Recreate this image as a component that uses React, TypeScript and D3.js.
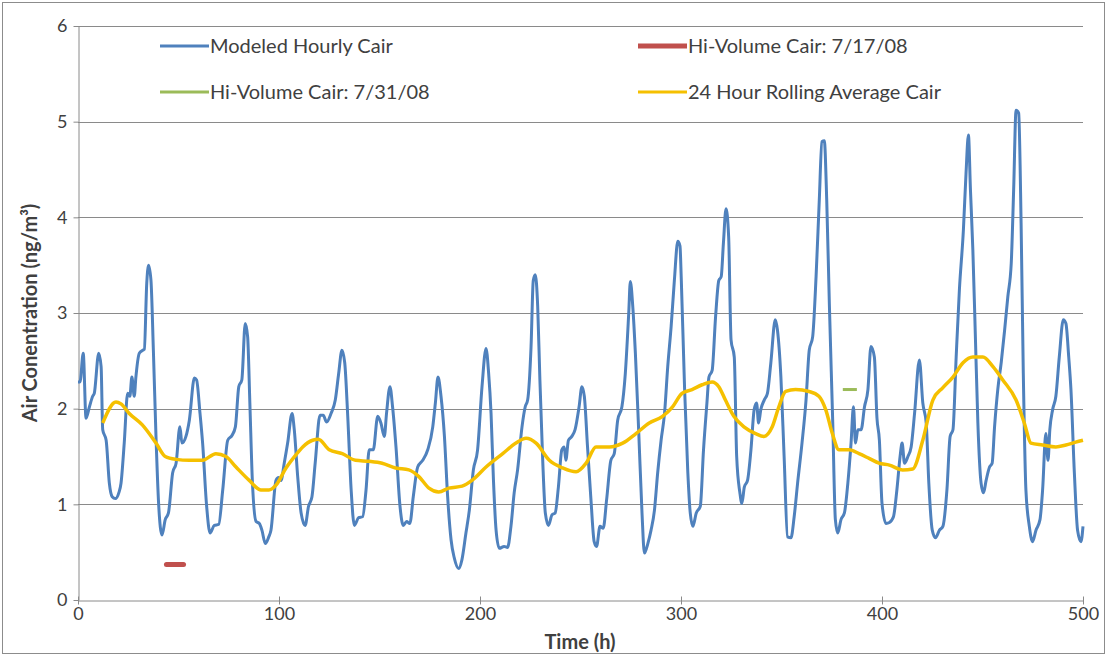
import React, { useEffect, useRef } from "react";
import * as d3 from "d3";

// modeled hourly air concentration
const hourlyTime = [
    0, 1, 2.6, 4, 5.7, 7.3, 8.1, 10.3, 11.5, 12.3, 14, 15.6, 17, 18.6, 20.3, 21.4, 23, 24.7, 25.8, 26.8, 28, 28.8,
    30.5, 32.2, 33, 34.2, 35.1, 36.3, 37.5, 38.8, 40.1, 41.8, 43.4, 45, 47.1, 48.8, 50.7, 51.7, 53.7, 55.4, 57.9,
    59, 60.7, 62, 64, 65.7, 67.8, 70, 72, 74.5, 76.6, 78.3, 80, 81.5, 83.2, 84.4, 85.5, 86.8, 88.6, 90.2, 91.5,
    93.2, 94.9, 96, 98.5, 99.8, 101, 102.6, 104.3, 106.5, 107.6, 109.3, 111, 113, 114.7, 116.4, 118, 120.4, 122,
    123.7, 125.9, 128, 129.7, 131.3, 132.7, 134.2, 135.9, 137.5, 139.6, 141.6, 143.3, 144.9, 146.9, 149.1, 150.7,
    152.4, 153.5, 155.2, 156.5, 158.2, 160.2, 161.8, 163.5, 165.1, 166.8, 169, 171.5, 174, 176.5, 177.8, 179.1,
    180.6, 182.3, 183.9, 185.6, 187.2, 189.4, 191, 193, 194.7, 196.7, 198.8, 201, 203, 204.3, 205.5, 206.7, 208,
    209.6, 212, 213.7, 215.4, 217, 218.7, 220.9, 222.5, 223.7, 225.4, 226.5, 227.5, 228.7, 229.8, 231.2, 232.5,
    234.1, 235.8, 237.4, 239, 240.7, 241.9, 242.7, 244, 245.7, 247.3, 249.3, 250.7, 251.9, 253.5, 255.2, 256.8,
    258, 259.7, 261.3, 263, 265.1, 266.8, 268.5, 270.6, 272.3, 274, 274.8, 276, 277.3, 279, 280.6, 281.8, 283.5,
    285.1, 286.8, 288.4, 290.1, 291.8, 293.4, 295.1, 296.7, 298.4, 299.5, 300.1, 301.8, 303.4, 304.6, 305.9,
    307.6, 309.6, 311.2, 312.9, 313.9, 315.5, 317.2, 318.8, 320, 321.1, 322.4, 323.7, 324.9, 326.5, 327.7, 329.3,
    330.3, 331.5, 333.1, 334.8, 336.4, 337.6, 338.6, 339.7, 341.4, 343, 344.7, 346.9, 348, 349.7, 351.3, 353,
    354.7, 356.3, 358, 360.2, 362.2, 363.8, 365.5, 367.2, 368.8, 370.1, 371.3, 372.5, 373.8, 375.5, 376.8, 378,
    379.6, 381.3, 383, 384.6, 385.8, 386.8, 388, 389.6, 391.3, 393, 394.5, 396.2, 397.5, 398.7, 400, 402, 403.7,
    405.7, 407.4, 409, 410, 411.2, 412.9, 414.5, 416.2, 418.6, 420.3, 422, 423.3, 425, 426.6, 428.6, 430.3, 432.3,
    433.9, 435.3, 436.9, 438.5, 440.5, 441.8, 443, 444, 445.2, 446.5, 447.7, 449.3, 450.5, 451.8, 453.5, 454.8,
    456, 457.6, 459.3, 461, 462.6, 464.3, 465.5, 466.7, 468, 469.2, 470.3, 471.6, 473.3, 474.9, 476.6, 478.6,
    479.9, 481.5, 482.6, 483.5, 484.9, 486.5, 488.2, 490.2, 491.5, 492.9, 494, 495.7, 497.3, 499, 500,
];
const hourlyCair = [
    2.28, 2.28, 2.58, 1.9, 2.02, 2.13, 2.16, 2.58, 2.44, 1.78, 1.67, 1.22, 1.08, 1.06, 1.12, 1.22, 1.64, 2.16, 2.13,
    2.33, 2.13, 2.33, 2.58, 2.61, 2.62, 3.31, 3.5, 3.34, 2.61, 1.71, 1.01, 0.68, 0.84, 0.91, 1.33, 1.43, 1.81, 1.64,
    1.71, 1.88, 2.32, 2.3, 1.95, 1.64, 0.98, 0.7, 0.78, 0.79, 1.15, 1.67, 1.72, 1.81, 2.23, 2.3, 2.89, 2.75, 2.06,
    1.22, 0.82, 0.8, 0.73, 0.59, 0.66, 0.73, 1.25, 1.28, 1.25, 1.43, 1.64, 1.95, 1.78, 1.29, 0.91, 0.78, 0.98, 1.08,
    1.43, 1.93, 1.93, 1.86, 1.95, 2.09, 2.37, 2.61, 2.48, 1.92, 1.15, 0.78, 0.86, 0.87, 1.15, 1.57, 1.57, 1.92,
    1.85, 1.71, 1.95, 2.23, 2.02, 1.6, 0.98, 0.78, 0.82, 0.8, 1.08, 1.39, 1.46, 1.57, 1.81, 2.06, 2.33, 2.13, 1.71,
    1.08, 0.63, 0.44, 0.33, 0.42, 0.7, 0.94, 1.36, 1.57, 2.23, 2.63, 2.37, 1.95, 1.25, 0.73, 0.54, 0.56, 0.55, 0.77,
    1.12, 1.36, 1.81, 2.02, 2.09, 2.65, 3.34, 3.4, 3.07, 2.3, 1.46, 0.91, 0.78, 0.89, 0.91, 1.18, 1.57, 1.6, 1.46,
    1.67, 1.71, 1.78, 2.02, 2.23, 2.13, 1.6, 1.05, 0.61, 0.56, 0.77, 0.75, 1.05, 1.46, 1.53, 1.88, 2.02, 2.37, 3.0,
    3.33, 3.07, 2.58, 1.74, 0.91, 0.49, 0.59, 0.73, 0.94, 1.33, 1.67, 1.95, 2.44, 2.86, 3.34, 3.75, 3.7, 3.38, 2.2,
    1.33, 0.91, 0.77, 0.91, 0.98, 1.57, 2.06, 2.33, 2.4, 2.96, 3.34, 3.38, 3.73, 4.09, 3.8, 2.72, 2.54, 1.5, 1.12,
    1.01, 1.18, 1.25, 1.57, 1.99, 2.06, 1.85, 1.99, 2.09, 2.16, 2.48, 2.93, 2.82, 2.33, 1.5, 0.66, 0.65, 0.87, 1.22,
    1.64, 2.09, 2.61, 2.75, 3.38, 4.18, 4.79, 4.8, 4.18, 3.1, 1.85, 0.84, 0.7, 0.84, 0.91, 1.22, 1.64, 2.02, 1.64,
    1.78, 1.78, 2.02, 2.2, 2.65, 2.54, 1.9, 1.67, 1.01, 0.8, 0.81, 0.87, 1.15, 1.5, 1.64, 1.43, 1.5, 1.6, 1.95, 2.51,
    2.06, 1.85, 1.22, 0.73, 0.65, 0.73, 0.77, 1.15, 1.71, 1.78, 2.54, 3.24, 3.87, 4.46, 4.86, 4.29, 3.66, 2.72, 1.85,
    1.22, 1.12, 1.25, 1.39, 1.43, 1.81, 2.2, 2.48, 2.82, 3.17, 3.52, 4.29, 5.12, 5.09, 3.94, 2.37, 1.15, 0.77, 0.61,
    0.73, 0.84, 1.15, 1.74, 1.46, 1.78, 1.99, 2.13, 2.54, 2.93, 2.89, 2.54, 2.2, 1.33, 0.73, 0.61, 0.77,
];

// 24 hour rolling average
const rollingTime = [
    12.3, 18.9, 21.4, 25.5, 32, 38.8, 43.4, 48.8, 55.4, 62, 68.6, 73.6, 78.6, 85.2, 91, 95, 98.5, 103.5, 108.5,
    111.8, 116.7, 119.6, 125, 131.5, 138.1, 144.7, 151.3, 158, 164.6, 169.6, 174.6, 179.5, 184.5, 191.1, 196, 203,
    211.3, 217.9, 222.9, 227.9, 234.5, 241.2, 247.8, 252.8, 257.7, 264.4, 271, 277.6, 284.2, 290.8, 295.8, 300.5,
    305.5, 310.5, 315.5, 318.8, 322.1, 326.3, 331.3, 337.1, 341.3, 345.4, 348.7, 352.1, 357, 363.7, 368.6, 372,
    375.3, 378.6, 383.6, 388.6, 393.6, 398.5, 403.7, 410.3, 415.3, 420.3, 425.3, 430.3, 435.3, 440.3, 445.2,
    450.2, 455.2, 460.1, 466.7, 470.8, 474.1, 479.9, 486.5, 491.5, 496.4, 500,
];
const rollingCair = [
    1.85, 2.07, 2.05, 1.95, 1.83, 1.64, 1.5, 1.47, 1.46, 1.46, 1.53, 1.5, 1.39, 1.25, 1.15, 1.15, 1.2, 1.38, 1.52,
    1.6, 1.67, 1.68, 1.57, 1.53, 1.46, 1.45, 1.43, 1.38, 1.36, 1.29, 1.17, 1.13, 1.17, 1.19, 1.25, 1.39, 1.53, 1.64,
    1.69, 1.64, 1.46, 1.38, 1.34, 1.43, 1.6, 1.6, 1.64, 1.74, 1.85, 1.92, 2.02, 2.16, 2.2, 2.25, 2.28, 2.23, 2.09,
    1.92, 1.81, 1.74, 1.71, 1.81, 2.02, 2.18, 2.2, 2.18, 2.13, 1.99, 1.74, 1.57, 1.57, 1.53, 1.48, 1.43, 1.41, 1.36,
    1.37, 1.67, 2.09, 2.22, 2.33, 2.48, 2.54, 2.54, 2.44, 2.3, 2.09, 1.85, 1.64, 1.62, 1.6, 1.62, 1.65, 1.67,
];

// hi-volume samples
const hiVol0717Time = [44, 52.5];
const hiVol0717Cair = [0.37, 0.37];
const hiVol0731Time = [380.5, 387.5];
const hiVol0731Cair = [2.2, 2.2];

const xTicks = [0, 100, 200, 300, 400, 500];
const yTicks = [0, 1, 2, 3, 4, 5, 6];

const legendItems = [
    { label: "Modeled Hourly Cair", color: "#4f81bd", width: 3, col: 0, row: 0 },
    { label: "Hi-Volume Cair: 7/17/08", color: "#c0504d", width: 5, col: 1, row: 0 },
    { label: "Hi-Volume Cair: 7/31/08", color: "#9bbb59", width: 3, col: 0, row: 1 },
    { label: "24 Hour Rolling Average Cair", color: "#f5c000", width: 3, col: 1, row: 1 },
];

const FONT = "Lato, 'Noto Sans', sans-serif";

const App = () => {
    const ref = useRef<SVGSVGElement>(null);

    useEffect(() => {
        document.body.style.margin = "0";
        if (!ref.current) return;
        d3.select(ref.current).selectAll("*").remove();

        const W = 1107;
        const H = 656;
        const svg = d3.select(ref.current).attr("width", W).attr("height", H);

        svg.append("rect")
            .attr("width", W)
            .attr("height", H)
            .attr("fill", "#fff");
        svg.append("rect")
            .attr("x", 2.5)
            .attr("y", 2.5)
            .attr("width", W - 5)
            .attr("height", H - 5)
            .attr("fill", "none")
            .attr("stroke", "#8c8c8c");

        const x = d3.scaleLinear().domain([0, 500]).range([78, 1083]);
        const y = d3.scaleLinear().domain([0, 6]).range([600, 26]);

        // gridlines
        svg.append("g")
            .selectAll("line")
            .data(yTicks.filter((d) => d > 0))
            .enter()
            .append("line")
            .attr("x1", x(0))
            .attr("x2", x(500))
            .attr("y1", (d) => Math.round(y(d)) + 0.5)
            .attr("y2", (d) => Math.round(y(d)) + 0.5)
            .attr("stroke", "#8a8a8a")
            .attr("stroke-width", 1);

        // axes
        const xAxis = svg.append("g")
            .attr("transform", `translate(0,${Math.round(y(0)) + 0.5})`)
            .call(d3.axisBottom(x).tickValues(xTicks).tickSize(4).tickSizeOuter(0).tickPadding(3));
        const yAxis = svg.append("g")
            .attr("transform", `translate(${Math.round(x(0)) + 0.5},0)`)
            .call(
                d3.axisLeft(y).tickValues(yTicks).tickFormat(d3.format("d")).tickSize(5).tickSizeOuter(0).tickPadding(6)
            );
        [xAxis, yAxis].forEach((g) => {
            g.select(".domain").attr("stroke", "#8a8a8a");
            g.selectAll(".tick line").attr("stroke", "#8a8a8a");
            g.selectAll("text")
                .attr("fill", "#404040")
                .attr("font-family", FONT)
                .attr("font-size", 18);
        });
        xAxis.selectAll(".tick line").attr("y1", -4);

        // series
        const hourlyLine = d3.line<number>()
            .x((_, i) => x(hourlyTime[i]))
            .y((d) => y(d))
            .curve(d3.curveMonotoneX);
        svg.append("path")
            .attr("d", hourlyLine(hourlyCair))
            .attr("fill", "none")
            .attr("stroke", "#4f81bd")
            .attr("stroke-width", 3)
            .attr("stroke-linejoin", "round");

        const rollingLine = d3.line<number>()
            .x((_, i) => x(rollingTime[i]))
            .y((d) => y(d))
            .curve(d3.curveMonotoneX);
        svg.append("path")
            .attr("d", rollingLine(rollingCair))
            .attr("fill", "none")
            .attr("stroke", "#f5c000")
            .attr("stroke-width", 3.5)
            .attr("stroke-linejoin", "round");

        const line0717 = d3.line<number>().x((_, i) => x(hiVol0717Time[i])).y((d) => y(d));
        svg.append("path")
            .attr("d", line0717(hiVol0717Cair))
            .attr("stroke", "#c0504d")
            .attr("stroke-width", 5)
            .attr("stroke-linecap", "round");
        const line0731 = d3.line<number>().x((_, i) => x(hiVol0731Time[i])).y((d) => y(d));
        svg.append("path")
            .attr("d", line0731(hiVol0731Cair))
            .attr("stroke", "#9bbb59")
            .attr("stroke-width", 3);

        // legend
        const legend = svg.append("g");
        legendItems.forEach((item) => {
            const lx = item.col === 0 ? 160 : 638;
            const ly = item.row === 0 ? 46 : 92;
            legend.append("line")
                .attr("x1", lx)
                .attr("x2", lx + 49)
                .attr("y1", ly)
                .attr("y2", ly)
                .attr("stroke", item.color)
                .attr("stroke-width", item.width);
            legend.append("text")
                .attr("x", lx + 50)
                .attr("y", ly)
                .attr("dy", "0.35em")
                .attr("fill", "#404040")
                .attr("font-family", FONT)
                .attr("font-size", 20)
                .text(item.label);
        });

        // axis titles
        svg.append("text")
            .attr("x", 580)
            .attr("y", 649)
            .attr("text-anchor", "middle")
            .attr("fill", "#404040")
            .attr("font-family", FONT)
            .attr("font-weight", "bold")
            .attr("font-size", 20)
            .text("Time (h)");
        svg.append("text")
            .attr("transform", "translate(37,313) rotate(-90)")
            .attr("text-anchor", "middle")
            .attr("fill", "#404040")
            .attr("font-family", FONT)
            .attr("font-weight", "bold")
            .attr("font-size", 20)
            .text("Air Conentration (ng/m³)");
    }, []);

    return <svg ref={ref} style={{ display: "block" }} />;
};

export default App;
